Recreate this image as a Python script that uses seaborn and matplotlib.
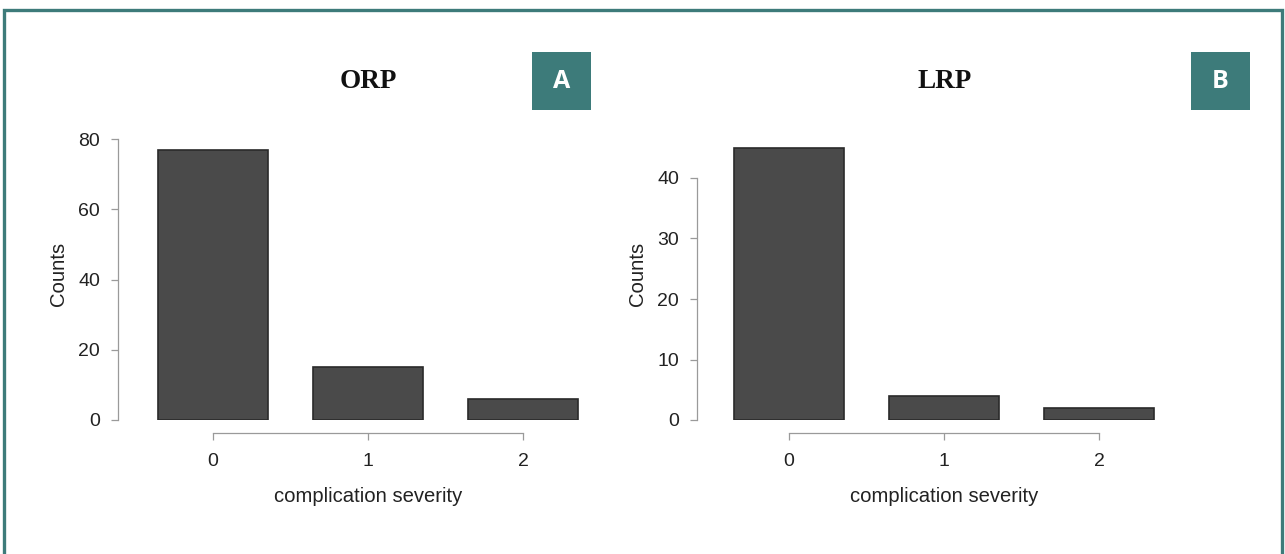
import matplotlib
matplotlib.use("Agg")
import matplotlib.pyplot as plt
import matplotlib.patches as mpatches
import matplotlib.transforms as mtransforms
import seaborn as sns
import pandas as pd

# ---- data ----
categories = ["0", "1", "2"]
orp_counts = [77, 15, 6]
lrp_counts = [45, 4, 2]
panel_titles = ["ORP", "LRP"]
panel_letters = ["A", "B"]
orp_yticks = [0, 20, 40, 60, 80]
lrp_yticks = [0, 10, 20, 30, 40]
xlabel_text = "complication severity"
ylabel_text = "Counts"

sns.set_theme(style="white")
plt.rcParams['font.family'] = ['Liberation Sans', 'DejaVu Sans']

W, H = 1285, 554
fig = plt.figure(figsize=(W / 100, H / 100), dpi=100)
fig.patch.set_facecolor("white")

TEAL = "#3d7b7a"
BAR = "#4a4a4a"
EDGE = "#2a2a2a"
AXC = "#9a9a9a"

def px_rect(left, right, bottom_px, top_px):
    return [left / W, 1 - bottom_px / H, (right - left) / W, (bottom_px - top_px) / H]

panels = [
    dict(vals=orp_counts, yt=orp_yticks, left=118, right=600, x0=213, y0=420,
         ytop_val=80, ytop_px=139, title_x=368, box=(532, 591, 52, 110)),
    dict(vals=lrp_counts, yt=lrp_yticks, left=697, right=1180, x0=789, y0=420,
         ytop_val=40, ytop_px=178, title_x=945, box=(1191, 1250, 52, 110)),
]
xunit = 155.0
top_px = 128

for i, p in enumerate(panels):
    ax = fig.add_axes(px_rect(p["left"], p["right"], p["y0"], top_px))
    df = pd.DataFrame({"severity": categories, "count": p["vals"]})
    sns.barplot(data=df, x="severity", y="count", ax=ax, color=BAR,
                width=0.71, edgecolor=EDGE, linewidth=1.2, saturation=1)
    ppu = (p["y0"] - p["ytop_px"]) / p["ytop_val"]
    ax.set_ylim(0, (p["y0"] - top_px) / ppu)
    ax.set_xlim((p["left"] - p["x0"]) / xunit, (p["right"] - p["x0"]) / xunit)
    ax.set_facecolor("white")
    for s in ["top", "right"]:
        ax.spines[s].set_visible(False)
    ax.spines["left"].set_bounds(p["yt"][0], p["yt"][-1])
    ax.spines["bottom"].set_bounds(0, 2)
    ax.spines["bottom"].set_position(("outward", 9.4))
    for s in ["left", "bottom"]:
        ax.spines[s].set_color(AXC)
        ax.spines[s].set_linewidth(0.9)
    ax.set_yticks(p["yt"])
    ax.set_yticklabels([str(v) for v in p["yt"]])
    ax.set_xticks(range(len(categories)))
    ax.set_xticklabels(categories)
    ax.tick_params(axis="both", which="both", length=5, width=0.9, color=AXC,
                   labelsize=14, labelcolor="#222222")
    ax.tick_params(axis="x", pad=9, bottom=True)
    ax.tick_params(axis="y", pad=8, left=True)
    ax.set_xlabel(xlabel_text, fontsize=14.6, color="#222222")
    blend = mtransforms.blended_transform_factory(ax.transData, fig.transFigure)
    ax.xaxis.set_label_coords(1, 1 - 497 / H, transform=blend)
    ax.xaxis.label.set_va("center")
    ax.set_ylabel(ylabel_text, fontsize=14.6, color="#222222", labelpad=7)
    ax.grid(False)

    # title
    fig.text(p["title_x"] / W, 1 - 82 / H, panel_titles[i], ha="center", va="center",
             fontsize=19.5, fontweight="bold", family="Liberation Serif", color="#111111")
    # letter box
    bx0, bx1, by0, by1 = p["box"]
    fig.patches.append(mpatches.Rectangle((bx0 / W, 1 - by1 / H), (bx1 - bx0) / W,
                                          (by1 - by0) / H, transform=fig.transFigure,
                                          facecolor=TEAL, edgecolor="none"))
    fig.text((bx0 + bx1) / 2 / W, 1 - (by0 + by1) / 2 / H, panel_letters[i],
             ha="center", va="center", fontsize=18, fontweight="bold",
             family="Open Sans", color="white")

# outer teal border
fig.patches.append(mpatches.Rectangle((4 / W, -0.05), (1282 - 4) / W, 1.05 - 10 / H,
                                      transform=fig.transFigure, facecolor="none",
                                      edgecolor=TEAL, linewidth=2.4, clip_on=False))

fig.savefig("out.png", dpi=100, facecolor="white")
